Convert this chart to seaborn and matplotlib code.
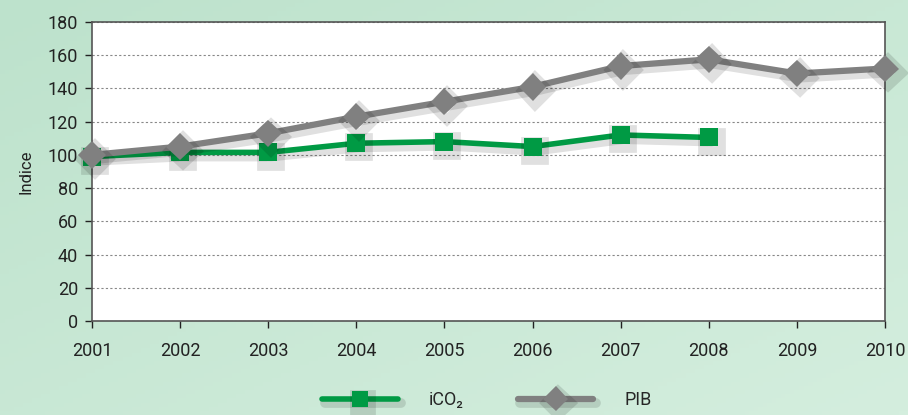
import matplotlib
matplotlib.use("Agg")
import matplotlib.pyplot as plt
import matplotlib.patheffects as pe
import seaborn as sns
import numpy as np
import pandas as pd

years = [2001, 2002, 2003, 2004, 2005, 2006, 2007, 2008, 2009, 2010]
pib = [100, 105, 113, 123, 132, 141, 153.5, 157.5, 149, 152]
years_co2 = [2001, 2002, 2003, 2004, 2005, 2006, 2007, 2008]
ico2 = [99, 101.5, 101.5, 107, 108, 105, 112, 110.5]
yticks = list(range(0, 181, 20))

sns.set_theme(style="white")
plt.rcParams["font.family"] = ["Roboto", "DejaVu Sans"]

fig = plt.figure(figsize=(9.08, 4.15), dpi=100)

# soft green gradient background
bg = fig.add_axes([0, 0, 1, 1], zorder=-10)
gx, gy = np.meshgrid(np.linspace(0, 1, 200), np.linspace(0, 1, 100))
grad = 0.5 * gx + 0.5 * gy
bg.imshow(grad, cmap=matplotlib.colors.LinearSegmentedColormap.from_list(
    "g", ["#bde2cc", "#d4eede"]), aspect="auto", extent=[0, 1, 0, 1])
bg.axis("off")

ax = fig.add_axes([0.1013, 0.2265, 0.8734, 0.7205])
ax.set_facecolor("white")

shadow = [pe.SimpleLineShadow(offset=(2, -3), shadow_color="black", alpha=0.12,
                              linewidth=7),
          pe.Normal()]

df_pib = pd.DataFrame({"year": years, "value": pib})
df_co2 = pd.DataFrame({"year": years_co2, "value": ico2})

sns.lineplot(data=df_co2, x="year", y="value", ax=ax, color="#009a44",
             linewidth=4, marker="s", markersize=13, markeredgewidth=0,
             label="iCO₂", zorder=3, clip_on=False)
sns.lineplot(data=df_pib, x="year", y="value", ax=ax, color="#808080",
             linewidth=4.5, marker="D", markersize=14, markeredgewidth=0,
             label="PIB", zorder=4, clip_on=False)
for ln in ax.lines:
    ln.set_path_effects(shadow)

ax.set_xlim(2001, 2010)
ax.set_ylim(0, 180)
ax.set_xticks(years)
ax.set_yticks(yticks)
ax.tick_params(axis="both", labelsize=13, colors="#222222", length=5,
               direction="out", width=1, bottom=True, left=True, pad=5)
ax.tick_params(axis="x", pad=10)
ax.yaxis.grid(True, linestyle=(0, (2, 2)), color="#888888", linewidth=0.8)
ax.set_axisbelow(True)
for s in ax.spines.values():
    s.set_color("#555555")
    s.set_linewidth(1.2)
ax.set_xlabel("")
ax.set_ylabel("Indice", fontsize=12, color="#222222", labelpad=10)

leg = ax.legend(loc="lower center", bbox_to_anchor=(0.536, -0.025),
                bbox_transform=fig.transFigure, ncol=2, frameon=False,
                handlelength=4.2, handletextpad=1.7, columnspacing=3.0,
                fontsize=13, markerscale=0.9)
for h in leg.legend_handles:
    h.set_path_effects(shadow)

fig.savefig("out.png", dpi=100)
